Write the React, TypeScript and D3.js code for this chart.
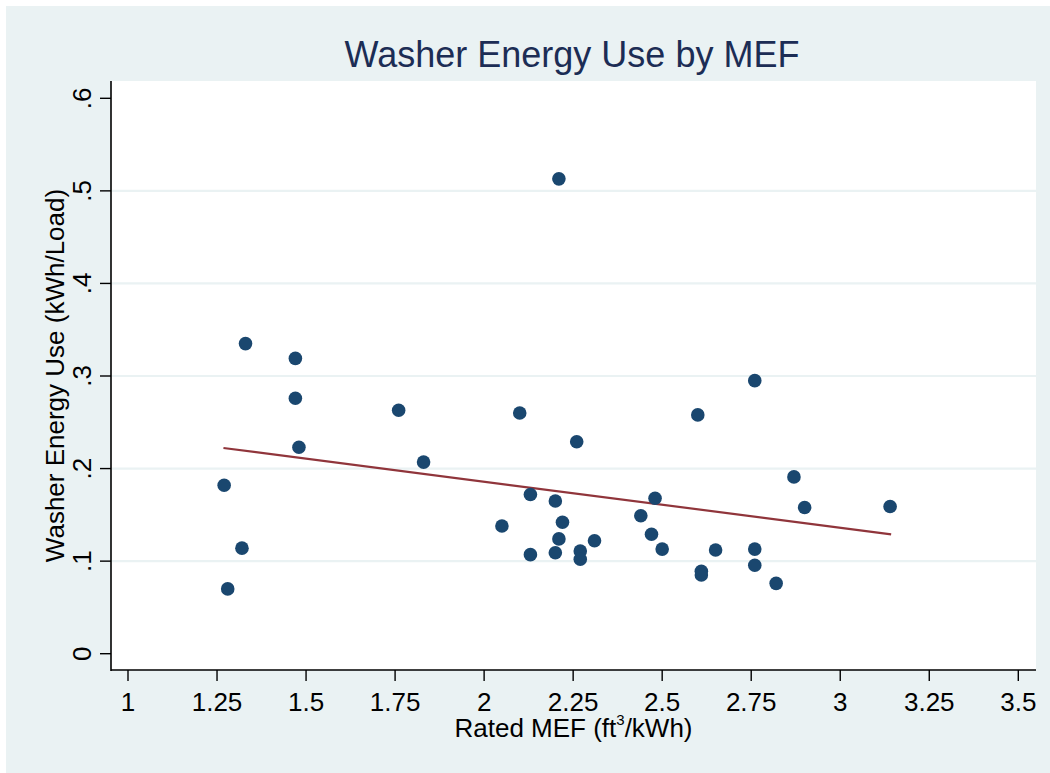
import React from "react";
import * as d3 from "d3";

const mefValues = [1.27, 1.28, 1.32, 1.33, 1.47, 1.47, 1.48, 1.76, 1.83, 2.05, 2.1, 2.13, 2.13, 2.2, 2.2, 2.21, 2.22, 2.21, 2.26, 2.27, 2.27, 2.31, 2.44, 2.47, 2.48, 2.5, 2.6, 2.61, 2.61, 2.65, 2.76, 2.76, 2.76, 2.82, 2.87, 2.9, 3.14];
const energyValues = [0.182, 0.07, 0.114, 0.335, 0.319, 0.276, 0.223, 0.263, 0.207, 0.138, 0.26, 0.172, 0.107, 0.165, 0.109, 0.124, 0.142, 0.513, 0.229, 0.111, 0.102, 0.122, 0.149, 0.129, 0.168, 0.113, 0.258, 0.089, 0.085, 0.112, 0.295, 0.113, 0.0955, 0.076, 0.191, 0.158, 0.159];
const fitX = [1.268, 3.143];
const fitY = [0.2222, 0.129];
const xTicks = [1, 1.25, 1.5, 1.75, 2, 2.25, 2.5, 2.75, 3, 3.25, 3.5];
const xTickLabels = ["1", "1.25", "1.5", "1.75", "2", "2.25", "2.5", "2.75", "3", "3.25", "3.5"];
const yTicks = [0, 0.1, 0.2, 0.3, 0.4, 0.5, 0.6];
const yTickLabels = ["0", ".1", ".2", ".3", ".4", ".5", ".6"];
const gridTicks = [0.1, 0.2, 0.3, 0.4, 0.5];

const W = 1050;
const H = 773;
const plot = { left: 111, right: 1036, top: 81, bottom: 670 };
const BG = "#EAF2F3";
const DOT = "#1A476F";
const FIT = "#90353B";
const TITLE = "#1C2D55";
const FONT = "'Liberation Sans', Arial, Helvetica, sans-serif";

export default function App() {
  const x = d3.scaleLinear().domain([1, 3.5]).range([128, 1018.3]);
  const y = d3.scaleLinear().domain([0, 0.6]).range([653.7, 98.3]);
  const line = d3
    .line<number>()
    .x((d) => x(d))
    .y((_, i) => y(fitY[i]));
  const pts = mefValues.map((m, i) => ({ m, e: energyValues[i] }));

  return (
    <svg
      width={W}
      height={H}
      style={{ position: "absolute", left: 0, top: 0 }}
      fontFamily={FONT}
    >
      <rect x={0} y={0} width={W} height={H} fill="#ffffff" />
      <rect x={6} y={6} width={W - 6} height={H - 6} fill={BG} />
      <rect
        x={plot.left}
        y={plot.top}
        width={plot.right - plot.left}
        height={plot.bottom - plot.top}
        fill="#ffffff"
      />
      {gridTicks.map((t) => (
        <line
          key={"g" + t}
          x1={plot.left}
          x2={plot.right}
          y1={y(t)}
          y2={y(t)}
          stroke={BG}
          strokeWidth={2.2}
        />
      ))}
      {/* axes */}
      <line x1={plot.left} x2={plot.left} y1={plot.top} y2={plot.bottom + 1} stroke="#000" strokeWidth={1.6} />
      <line x1={plot.left} x2={plot.right} y1={plot.bottom} y2={plot.bottom} stroke="#000" strokeWidth={1.6} />
      {yTicks.map((t, i) => (
        <g key={"y" + t}>
          <line x1={plot.left - 11} x2={plot.left} y1={y(t)} y2={y(t)} stroke="#000" strokeWidth={1.4} />
          <text
            transform={`translate(91,${y(t)}) rotate(-90)`}
            textAnchor="middle"
            fontSize={26}
            fill="#000"
          >
            {yTickLabels[i]}
          </text>
        </g>
      ))}
      {xTicks.map((t, i) => (
        <g key={"x" + t}>
          <line x1={x(t)} x2={x(t)} y1={plot.bottom} y2={plot.bottom + 11} stroke="#000" strokeWidth={1.4} />
          <text x={x(t)} y={710.7} textAnchor="middle" fontSize={26} fill="#000">
            {xTickLabels[i]}
          </text>
        </g>
      ))}
      {/* fit line */}
      <path d={line(fitX) || ""} fill="none" stroke={FIT} strokeWidth={2.2} />
      {/* points */}
      {pts.map((p, i) => (
        <circle key={"p" + i} cx={x(p.m)} cy={y(p.e)} r={6.8} fill={DOT} />
      ))}
      {/* titles */}
      <text x={572} y={66.7} textAnchor="middle" fontSize={36} fill={TITLE}>
        Washer Energy Use by MEF
      </text>
      <text x={573.5} y={736.7} textAnchor="middle" fontSize={26} fill="#000">
        Rated MEF (ft
        <tspan fontSize={15} dy={-12}>3</tspan>
        <tspan dy={12}>/kWh)</tspan>
      </text>
      <text
        transform={`translate(64,${(plot.top + plot.bottom) / 2}) rotate(-90)`}
        textAnchor="middle"
        fontSize={26}
        fill="#000"
      >
        Washer Energy Use (kWh/Load)
      </text>
    </svg>
  );
}
